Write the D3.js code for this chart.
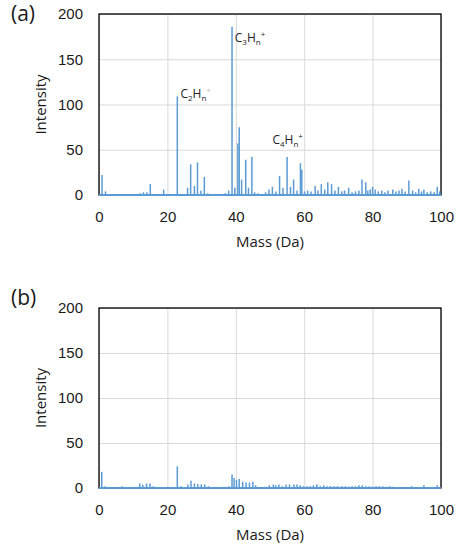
<!DOCTYPE html>
<html>
<head>
<meta charset="utf-8">
<script src="https://cdn.jsdelivr.net/npm/d3@7"></script>
<style>
  body { margin: 0; background: #fff; }
  svg { display: block; font-family: "Open Sans", sans-serif; }
  .tick line { stroke: #d9d9d9; }
  .domain { display: none; }
  .tick text { font-size: 15px; fill: #1a1a1a; }
</style>
</head>
<body>
<svg width="460" height="546"></svg>
<script>

// tick values
var xTicks = [0, 20, 40, 60, 80, 100];
var yTicks = [0, 50, 100, 150, 200];

// panel (a): peak masses (Da) and intensities
var massA = [0.9, 1.9, 12, 13, 14, 15, 18.9, 22.9, 25.9, 26.8, 27.9, 28.8, 29.8, 30.8, 31.8, 33, 35, 36.9, 37.9,
             38.9, 39.7, 40.6, 41, 41.7, 42.9, 43.7, 44.7, 45.5, 46.5, 47.5, 48.7, 49.7, 50.7, 51.7, 52.8, 53.8,
             55, 56, 56.9, 57.9, 58.9, 59.3, 60.1, 61, 62, 63.2, 64, 65, 66, 66.9, 68, 69, 70, 71, 71.8, 73, 74,
             75, 76, 76.9, 78, 78.6, 79.3, 80, 80.8, 81.7, 82.7, 83.6, 84.5, 85.9, 86.8, 87.7, 88.6, 89.5, 90.6,
             91.7, 92.6, 93.5, 94.3, 95, 96, 97, 98, 98.9, 99.6];
var intensityA = [22, 4, 2, 3, 3, 12, 6, 109, 8, 34, 10, 36, 5, 20, 2, 1, 1, 2, 5,
                  186, 8, 57, 75, 17, 39, 8, 42, 3, 2, 1, 3, 6, 9, 4, 21, 8,
                  42, 9, 17, 5, 35, 28, 4, 5, 4, 10, 5, 12, 6, 14, 12, 5, 9, 4, 5, 8, 3,
                  4, 5, 17, 14, 5, 6, 9, 6, 4, 5, 3, 5, 6, 4, 5, 7, 4, 16,
                  5, 3, 7, 4, 6, 3, 4, 3, 9, 4];

// panel (b)
var massB = [0.8, 1.8, 3, 6.8, 10.8, 11.9, 12.8, 13.9, 14.9, 15.9, 17, 19, 20.5, 22.9, 24, 26, 26.9, 27.9, 28.9,
             29.9, 30.9, 32, 33.5, 35, 36.5, 38, 38.9, 39.5, 40.2, 41, 42, 43, 44, 45, 45.8, 47, 48.5, 49.8, 51,
             51.7, 52.6, 53.6, 54.7, 55.7, 57, 57.9, 58.8, 59.8, 60.8, 61.8, 62.7, 63.7, 64.7, 65.7, 66.7, 67.7,
             68.7, 69.7, 71, 72, 73, 74, 75, 76, 77, 78, 79, 80, 81, 82, 83, 84, 85, 86, 87, 88, 89.5, 91.4, 93,
             95, 97, 98.9];
var intensityB = [18, 2, 1, 2, 1.5, 5, 3.5, 5, 5, 2, 1, 1, 1, 24, 2, 4, 8, 5, 4.5,
                  4, 4, 2, 1, 1, 1.5, 2, 15, 11, 9, 10, 7, 6, 6, 7, 3, 1, 1.5, 3, 4,
                  3, 4, 2, 4, 4, 4, 4, 3, 2, 2, 2, 3, 4, 2, 3, 2, 2,
                  2, 2, 2, 2, 1.5, 2, 2, 3, 3, 2, 2, 1.5, 2, 2, 2, 1.5, 2, 1.5, 1, 1, 1, 2, 1,
                  3, 1, 3];

// peak labels for panel (a): [mass, intensity, element count]
var labelMass = [23.8, 39.7, 50.7];
var labelIntensity = [107, 169, 56];
var labelN = ["2", "3", "4"];

var svg = d3.select("svg");
var left = 99, right = 441;

function drawPanel(top, bottom, tag, mass, intensity, withLabels) {
  var xScale = d3.scaleLinear()
                 .domain([0, 100])
                 .range([left, right]);
  var yScale = d3.scaleLinear()
                 .domain([0, 200])
                 .range([bottom, top]);

  // gridlines + tick labels
  svg.append("g")
     .attr("transform", "translate(" + left + ",0)")
     .call(d3.axisLeft(yScale).tickValues(yTicks).tickSize(-(right - left)).tickPadding(16));
  svg.append("g")
     .attr("transform", "translate(0," + bottom + ")")
     .call(d3.axisBottom(xScale).tickValues(xTicks).tickSize(-(bottom - top)).tickPadding(16));

  // frame
  svg.append("rect")
     .attr("x", left).attr("y", top)
     .attr("width", right - left).attr("height", bottom - top)
     .attr("fill", "none").attr("stroke", "#000").attr("stroke-width", 1.3);

  // baseline of the spectrum
  svg.append("line")
     .attr("x1", xScale(0)).attr("x2", xScale(100))
     .attr("y1", yScale(0)).attr("y2", yScale(0))
     .attr("stroke", "#5b9bd5").attr("stroke-width", 2.2);

  // peaks
  svg.append("g")
     .selectAll("line")
     .data(mass)
     .enter().append("line")
     .attr("x1", function(d) { return xScale(d); })
     .attr("x2", function(d) { return xScale(d); })
     .attr("y1", yScale(0))
     .attr("y2", function(d, i) { return yScale(intensity[i]); })
     .attr("stroke", "#5b9bd5")
     .attr("stroke-width", 1.5);

  svg.append("text")
     .attr("x", 42).attr("y", (top + bottom) / 2)
     .attr("transform", "rotate(-90,42," + (top + bottom) / 2 + ")")
     .attr("text-anchor", "middle").attr("dominant-baseline", "middle")
     .style("font-size", "15px").attr("fill", "#1a1a1a")
     .text("Intensity");

  svg.append("text")
     .attr("x", (left + right) / 2).attr("y", bottom + 48)
     .attr("text-anchor", "middle").attr("dominant-baseline", "middle")
     .style("font-size", "15px").attr("fill", "#1a1a1a")
     .text("Mass (Da)");

  // panel tag, kept inside the page
  svg.append("text")
     .attr("x", 11).attr("y", Math.max(top - 3, 21))
     .style("font-size", "21px").attr("fill", "#1a1a1a")
     .text(tag);

  if (withLabels) {
    labelN.forEach(function(n, i) {
      var t = svg.append("text")
                 .attr("x", xScale(labelMass[i]))
                 .attr("y", yScale(labelIntensity[i]))
                 .style("font-size", "12px").attr("fill", "#222");
      t.append("tspan").text("C");
      t.append("tspan").attr("dy", 3).style("font-size", "8px").text(n);
      t.append("tspan").attr("dy", -3).text("H");
      t.append("tspan").attr("dy", 3).style("font-size", "8px").text("n");
      t.append("tspan").attr("dy", -8).style("font-size", "8px")
       .attr("fill", i == 0 ? "#bbb" : "#222").text("+");
    });
  }
}

drawPanel(14, 195, "(a)", massA, intensityA, true);
drawPanel(308, 488, "(b)", massB, intensityB, false);

</script>
</body>
</html>
